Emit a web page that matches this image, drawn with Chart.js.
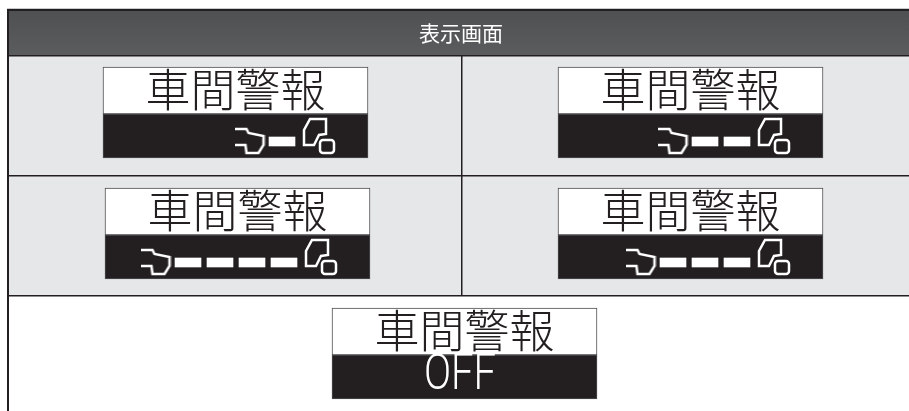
<!DOCTYPE html>
<html lang="ja">
<head>
<meta charset="utf-8">
<title>表示画面</title>
<script src="https://cdn.jsdelivr.net/npm/chart.js@4"></script>
<style>
html, body { margin: 0; padding: 0; background: #fff; }
canvas { display: block; }
</style>
</head>
<body>
<canvas id="myChart" width="909" height="411"></canvas>
<script>
// what each display shows
const headerText = '表示画面';
const panelTitle = '車間警報';
const offText = 'OFF';
const gapBars = [1, 2, 4, 3, 0];
const panelOff = [false, false, false, false, true];

// axes run in reference pixels, panels are placed on them
const panelLeft = [103, 558, 105, 558, 332];
const panelTop = [67, 67, 188, 188, 308];
const panelW = 265, panelUpper = 47, panelH = 91;
const truckOffset = 199, dashW = 26, dashPitch = 32, dashY = 70, dashH = 9;

function iconCanvas(w, h, paint) {
    let c = document.createElement('canvas');
    c.width = w;
    c.height = h;
    let g = c.getContext('2d');
    g.strokeStyle = '#fff';
    g.lineWidth = 2.5;
    g.lineJoin = 'miter';
    paint(g);
    return c;
}

function path(g, pts, close) {
    g.beginPath();
    pts.forEach(function(p, i) { i ? g.lineTo(p[0], p[1]) : g.moveTo(p[0], p[1]); });
    if (close) g.closePath();
    g.stroke();
}

const carIcon = iconCanvas(31, 28, function(g) {
    path(g, [[0, 2], [12, 2], [14, 6], [29, 9], [29, 18], [24, 26], [12, 26], [11, 18], [0, 18]]);
});
const truckIcon = iconCanvas(34, 38, function(g) {
    path(g, [[8, 2], [24, 2], [24, 17], [17, 18], [12, 28], [2, 28], [2, 13]], true);
    g.beginPath();
    g.roundRect(18, 23, 14, 13, 3);
    g.stroke();
});

function rows(fn) {
    return panelLeft.map(function(x, i) { return fn(x, panelTop[i], i); });
}

const upperBars = rows(function(x, y) { return { x: x + panelW / 2, y: [y, y + panelUpper] }; });
const lowerBars = rows(function(x, y) { return { x: x + panelW / 2, y: [y + panelUpper, y + panelH] }; });
const dashBars = [];
const truckPoints = [], carPoints = [];
gapBars.forEach(function(n, i) {
    let right = panelLeft[i] + truckOffset - 7;
    for (let k = 0; k < n; k++) {
        dashBars.push({ x: right - k * dashPitch - dashW / 2, y: [panelTop[i] + dashY, panelTop[i] + dashY + dashH] });
    }
    if (panelOff[i]) return;
    truckPoints.push({ x: panelLeft[i] + truckOffset + 17, y: panelTop[i] + 69 });
    carPoints.push({ x: right - (n - 1) * dashPitch - dashW - 19, y: panelTop[i] + 74 });
});

const tableFrame = {
    id: 'tableFrame',
    beforeDatasetsDraw(chart) {
        let c = chart.ctx, sx = chart.scales.x, sy = chart.scales.y;
        let px = function(v) { return sx.getPixelForValue(v); };
        let py = function(v) { return sy.getPixelForValue(v); };
        c.save();
        c.fillStyle = '#e6e7e8';
        c.fillRect(px(8), py(55), px(909) - px(8), py(296) - py(55));
        let grad = c.createLinearGradient(0, py(10), 0, py(55));
        grad.addColorStop(0, '#4f5052');
        grad.addColorStop(1, '#5b5c5e');
        c.fillStyle = grad;
        c.fillRect(px(8), py(10), px(909) - px(8), py(55) - py(10));
        c.fillStyle = '#c9cacb';
        c.fillRect(px(7), py(8), px(909) - px(7), 1);
        c.fillStyle = '#231f20';
        c.fillRect(px(8), py(9), px(909) - px(8), 2);
        c.fillRect(px(7), py(9), 2, py(411) - py(9));
        c.fillRect(px(8), py(55), px(909) - px(8), 1.5);
        c.fillRect(px(8), py(175), px(909) - px(8), 1.5);
        c.fillRect(px(8), py(295), px(909) - px(8), 1.5);
        c.fillRect(px(461), py(55), 1.5, py(295) - py(55));
        c.restore();
    },
    afterDatasetsDraw(chart) {
        let c = chart.ctx, sx = chart.scales.x, sy = chart.scales.y;
        c.save();
        c.textAlign = 'center';
        c.textBaseline = 'middle';
        c.fillStyle = '#fff';
        c.font = '21px "Noto Sans CJK JP"';
        c.fillText(headerText, sx.getPixelForValue(461), sy.getPixelForValue(33));
        panelLeft.forEach(function(x, i) {
            c.fillStyle = '#231f20';
            c.font = '300 45px "Noto Sans CJK JP"';
            c.fillText(panelTitle, sx.getPixelForValue(x + 132.5), sy.getPixelForValue(panelTop[i] + 23));
            if (panelOff[i]) {
                c.save();
                c.translate(sx.getPixelForValue(x + 128), sy.getPixelForValue(panelTop[i] + 68));
                c.scale(0.8, 1);
                c.fillStyle = '#fff';
                c.font = '300 50px Roboto';
                c.fillText(offText, 0, 0);
                c.restore();
            }
        });
        c.restore();
    }
};

let ctx = document.getElementById('myChart').getContext('2d');
let myChart = new Chart(ctx, {
    type: 'bar',
    plugins: [tableFrame],
    data: {
        datasets: [
            { data: upperBars, barThickness: panelW, grouped: false, backgroundColor: '#fff', borderColor: '#4d4d4f', borderWidth: 1, borderSkipped: false, order: 4 },
            { data: lowerBars, barThickness: panelW, grouped: false, backgroundColor: '#231f20', borderColor: '#4d4d4f', borderWidth: 1, borderSkipped: false, order: 3 },
            { data: dashBars, barThickness: dashW, grouped: false, backgroundColor: '#fff', borderWidth: 0, order: 2 },
            { type: 'scatter', data: truckPoints, pointStyle: truckIcon, order: 1 },
            { type: 'scatter', data: carPoints, pointStyle: carIcon, order: 1 }
        ]
    },
    options: {
        responsive: false,
        animation: false,
        layout: { padding: 0, autoPadding: false },
        plugins: { legend: { display: false }, tooltip: { enabled: false } },
        scales: {
            x: { type: 'linear', min: 0, max: 909, offset: false, display: false },
            y: { min: 0, max: 411, reverse: true, display: false }
        }
    }
});
</script>
</body>
</html>
